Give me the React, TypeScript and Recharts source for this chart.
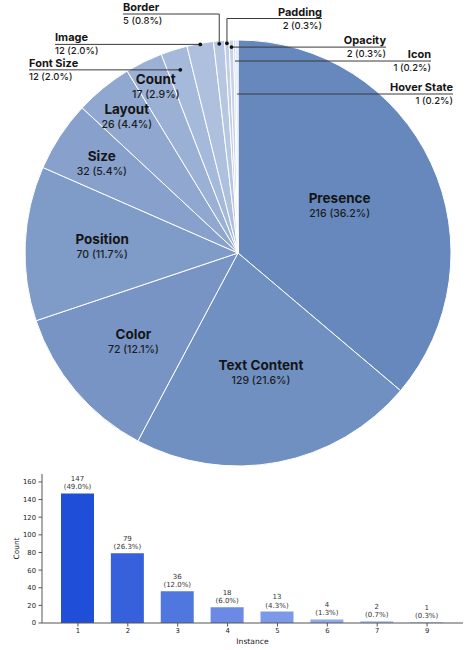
import React from 'react';
import { PieChart, Pie, Cell, BarChart, Bar, XAxis, YAxis, LabelList } from 'recharts';

// pie: attribute categories
const categories = [
  'Presence', 'Text Content', 'Color', 'Position', 'Size', 'Layout', 'Count',
  'Font Size', 'Image', 'Border', 'Padding', 'Opacity', 'Icon', 'Hover State',
];
const categoryCounts = [216, 129, 72, 70, 32, 26, 17, 12, 12, 5, 2, 2, 1, 1];
const categoryShares = ['36.2', '21.6', '12.1', '11.7', '5.4', '4.4', '2.9', '2.0', '2.0', '0.8', '0.3', '0.3', '0.2', '0.2'];
const pieColors = [
  '#6788bd', '#7090c2', '#7794c4', '#7f9bc8', '#87a1cc', '#90a8d0', '#9bb0d5',
  '#a5b9da', '#aec0dd', '#b7c7e2', '#bfcde5', '#c6d2e8', '#ccd7ea', '#d3dcee',
];

// bar: instances per item
const instances = ['1', '2', '3', '4', '5', '6', '7', '9'];
const instanceCounts = [147, 79, 36, 18, 13, 4, 2, 1];
const instanceShares = ['49.0', '26.3', '12.0', '6.0', '4.3', '1.3', '0.7', '0.3'];
const barColors = ['#1f4fd8', '#3761dc', '#5077e0', '#6a8ae5', '#7c99e9', '#90a9ed', '#a8bcf1', '#c3d0f5'];
const yTicks = [0, 20, 40, 60, 80, 100, 120, 140, 160];

const pieData = categories.map((name, i) => ({ name, value: categoryCounts[i], share: categoryShares[i] }));
const barData = instances.map((instance, i) => ({ instance, count: instanceCounts[i], share: instanceShares[i] }));

const SANS = 'Inter, "Noto Sans", sans-serif';
const MPL = '"DejaVu Sans", sans-serif';
const RAD = Math.PI / 180;

// label radius (px) for the big slices
const insideR: Record<string, number> = {
  Presence: 112, 'Text Content': 122, Color: 137, Position: 136, Size: 163, Layout: 176, Count: 186,
};

// leader-line labels for the thin slices
type Callout = { r: number; textDx: number; anchor: 'start' | 'end'; elbowDy?: number; dot: boolean };
const callouts: Record<string, Callout> = {
  'Font Size': { r: 192, textDx: -209, anchor: 'start', dot: true },
  Image: { r: 212, textDx: -183, anchor: 'start', dot: true },
  Border: { r: 210, textDx: -115, anchor: 'start', elbowDy: -239, dot: true },
  Padding: { r: 210, textDx: 84, anchor: 'end', elbowDy: -234.5, dot: true },
  Opacity: { r: 206, textDx: 148, anchor: 'end', dot: true },
  Icon: { r: 192, textDx: 193, anchor: 'end', dot: false },
  'Hover State': { r: 159, textDx: 215, anchor: 'end', dot: false },
};

const renderPieLabel = (props: any) => {
  const { cx, cy, midAngle, name, value, payload } = props;
  const sub = `${value} (${payload.share}%)`;
  const cos = Math.cos(midAngle * RAD);
  const sin = Math.sin(midAngle * RAD);

  if (insideR[name] !== undefined) {
    const r = insideR[name];
    const x = cx + r * cos;
    const y = cy - r * sin;
    return (
      <g key={name}>
        <text x={x} y={y - 2.5} textAnchor="middle" fontFamily={SANS} fontWeight={700} fontSize={13.5} fill="#151515">
          {name}
        </text>
        <text x={x} y={y + 11.5} textAnchor="middle" fontFamily={SANS} fontWeight={500} fontSize={10.5} fill="#1c1c1c">
          {sub}
        </text>
      </g>
    );
  }

  const c = callouts[name];
  if (!c) return null;
  const px = cx + c.r * cos;
  const py = cy - c.r * sin;
  const lineY = c.elbowDy !== undefined ? cy + c.elbowDy : py;
  const tx = cx + c.textDx;
  const path = c.elbowDy !== undefined
    ? `M${px},${py} L${px},${lineY} L${tx},${lineY}`
    : `M${px},${py} L${tx},${lineY}`;
  return (
    <g key={name}>
      <path d={path} stroke="#3a3a3a" strokeWidth={1} fill="none" />
      {c.dot && <circle cx={px} cy={py} r={1.9} fill="#111" />}
      <text x={tx} y={lineY - 3} textAnchor={c.anchor} fontFamily={SANS} fontWeight={700} fontSize={11} fill="#151515">
        {name}
      </text>
      <text x={tx} y={lineY + 10} textAnchor={c.anchor} fontFamily={SANS} fontWeight={500} fontSize={9.5} fill="#1c1c1c">
        {sub}
      </text>
    </g>
  );
};

const renderBarLabel = (props: any) => {
  const { x, y, width, index } = props;
  const mid = x + width / 2;
  const d = barData[index];
  return (
    <g>
      <text x={mid} y={y - 12.5} textAnchor="middle" fontFamily={MPL} fontSize={7} fill="#333">
        {d.count}
      </text>
      <text x={mid} y={y - 4} textAnchor="middle" fontFamily={MPL} fontSize={7} fill="#333">
        ({d.share}%)
      </text>
    </g>
  );
};

const tickStyle = { fill: '#222', fontSize: 6.8, fontFamily: MPL };

export default function App() {
  return (
    <div style={{ position: 'absolute', left: 0, top: 0, width: 476, height: 650, background: '#fff' }}>
      <PieChart width={476} height={470} margin={{ top: 0, right: 0, bottom: 0, left: 0 }}>
        <Pie
          data={pieData}
          dataKey="value"
          nameKey="name"
          cx={238}
          cy={253}
          outerRadius={213}
          startAngle={90}
          endAngle={-270}
          stroke="#ffffff"
          strokeWidth={1}
          label={renderPieLabel}
          labelLine={false}
          isAnimationActive={false}
        >
          {pieData.map((d, i) => (
            <Cell key={d.name} fill={pieColors[i]} />
          ))}
        </Pie>
      </PieChart>
      <BarChart width={476} height={180} data={barData} margin={{ top: 4, right: 13, bottom: 0, left: 0 }}>
        <XAxis
          dataKey="instance"
          height={27}
          interval={0}
          padding={{ left: 11, right: 11 }}
          tick={tickStyle}
          tickSize={3.5}
          tickMargin={1.5}
          axisLine={{ stroke: '#555' }}
          tickLine={{ stroke: '#555' }}
          label={{
            content: (p: any) => {
              const vb = p.viewBox;
              return (
                <text x={vb.x + vb.width / 2} y={vb.y + 21.3} textAnchor="middle" fontFamily={MPL} fontSize={7.6} fill="#222">
                  Instance
                </text>
              );
            },
          }}
        />
        <YAxis
          width={42}
          domain={[0, 169]}
          ticks={yTicks}
          allowDataOverflow
          tick={tickStyle}
          tickSize={3.5}
          tickMargin={2.5}
          axisLine={{ stroke: '#555' }}
          tickLine={{ stroke: '#555' }}
          label={{
            content: (p: any) => {
              const vb = p.viewBox;
              const x = 19;
              const y = vb.y + vb.height / 2;
              return (
                <text x={x} y={y} transform={`rotate(-90 ${x} ${y})`} textAnchor="middle" fontFamily={MPL} fontSize={7.4} fill="#222">
                  Count
                </text>
              );
            },
          }}
        />
        <Bar dataKey="count" barSize={33} isAnimationActive={false}>
          {barData.map((d, i) => (
            <Cell key={d.instance} fill={barColors[i]} />
          ))}
          <LabelList dataKey="count" content={renderBarLabel} />
        </Bar>
      </BarChart>
    </div>
  );
}
